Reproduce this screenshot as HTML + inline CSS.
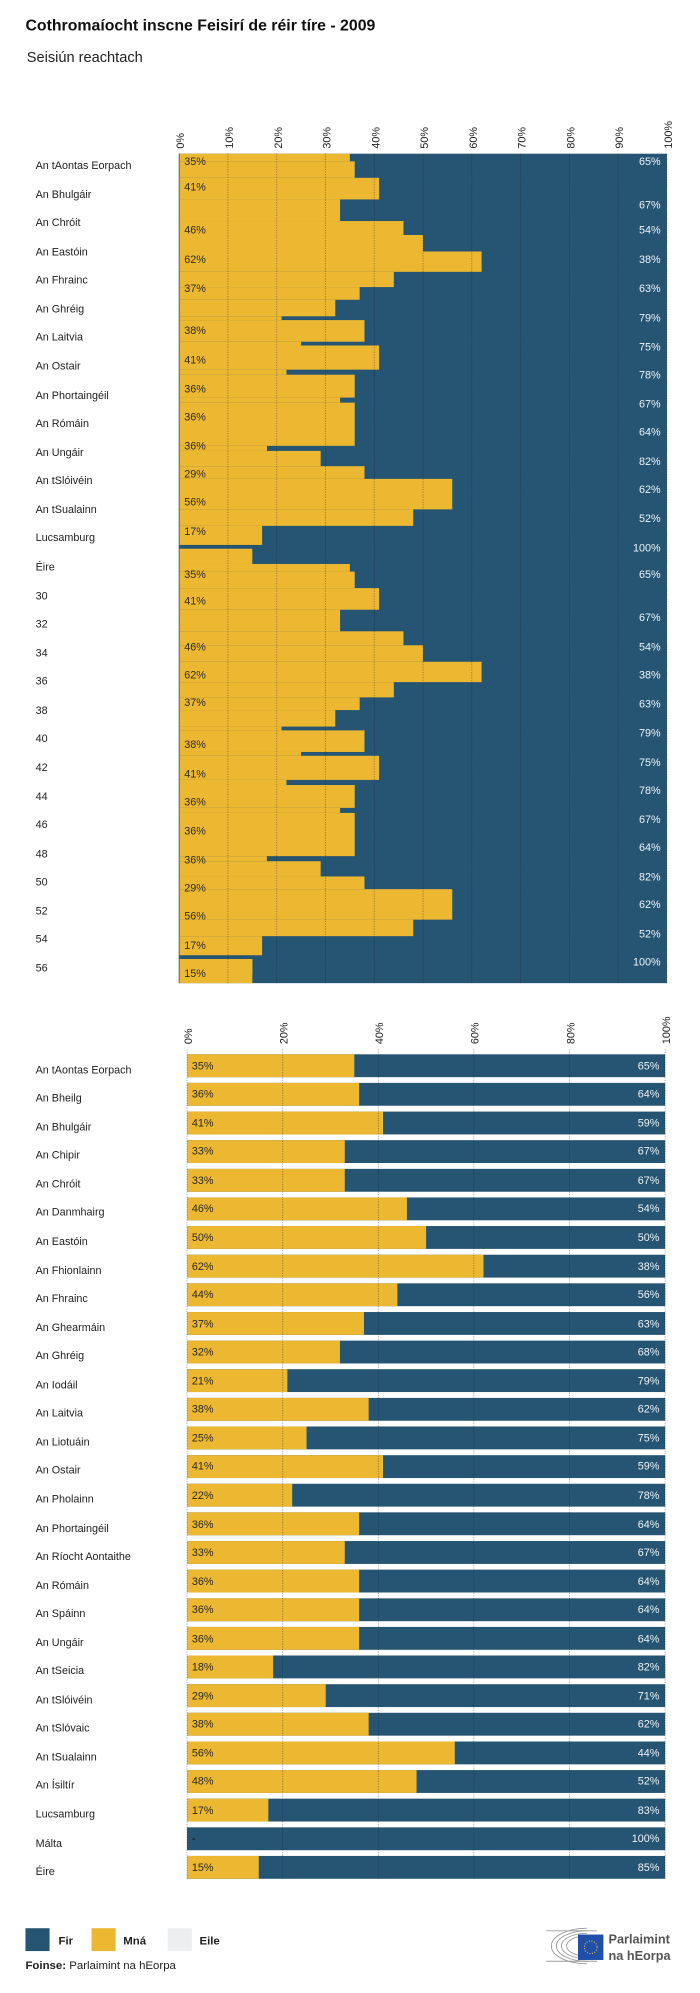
<!DOCTYPE html>
<html><head><meta charset="utf-8"><style>
html,body{margin:0;padding:0;background:#fff;}
svg{display:block;}
text{font-family:"Liberation Sans",sans-serif;}
</style></head><body>
<svg width="700" height="1993" viewBox="0 0 551 1569" xmlns="http://www.w3.org/2000/svg">
<rect x="0" y="0" width="551" height="1569" fill="#fff"/>
<g transform="translate(0,-1)">
<text x="20" y="25" font-size="12.5" font-weight="bold" fill="#111">Cothromaíocht inscne Feisirí de réir tíre - 2009</text>
<text x="21" y="50" font-size="11.5" fill="#222">Seisiún reachtach</text>

<!-- TOP CHART -->
<g font-size="8.5" fill="#222">
<text transform="translate(145,118) rotate(-90)">0%</text>
<text transform="translate(183.4,118) rotate(-90)">10%</text>
<text transform="translate(221.8,118) rotate(-90)">20%</text>
<text transform="translate(260.2,118) rotate(-90)">30%</text>
<text transform="translate(298.6,118) rotate(-90)">40%</text>
<text transform="translate(337,118) rotate(-90)">50%</text>
<text transform="translate(375.4,118) rotate(-90)">60%</text>
<text transform="translate(413.8,118) rotate(-90)">70%</text>
<text transform="translate(452.2,118) rotate(-90)">80%</text>
<text transform="translate(490.6,118) rotate(-90)">90%</text>
<text transform="translate(529,118) rotate(-90)">100%</text>
</g>
<rect x="141" y="122" width="384" height="653" fill="#265573"/>
<g id="half" fill="#ecb731">
<rect x="141" y="122" width="134.4" height="6"/>
<rect x="141" y="128" width="138.2" height="13"/>
<rect x="141" y="141" width="157.4" height="17"/>
<rect x="141" y="158" width="126.7" height="17"/>
<rect x="141" y="175" width="176.6" height="11"/>
<rect x="141" y="186" width="192" height="13"/>
<rect x="141" y="199" width="238.1" height="16"/>
<rect x="141" y="215" width="169" height="12"/>
<rect x="141" y="227" width="142.1" height="10"/>
<rect x="141" y="237" width="122.9" height="13"/>
<rect x="141" y="250" width="80.6" height="3"/>
<rect x="141" y="253" width="145.9" height="17"/>
<rect x="141" y="270" width="96" height="3"/>
<rect x="141" y="273" width="157.4" height="19"/>
<rect x="141" y="292" width="84.5" height="4"/>
<rect x="141" y="296" width="138.2" height="18"/>
<rect x="141" y="314" width="126.7" height="4"/>
<rect x="141" y="318" width="138.2" height="34"/>
<rect x="141" y="352" width="69.1" height="4"/>
<rect x="141" y="356" width="111.4" height="12"/>
<rect x="141" y="368" width="145.9" height="10"/>
<rect x="141" y="378" width="215" height="24"/>
<rect x="141" y="402" width="184.3" height="13"/>
<rect x="141" y="415" width="65.3" height="15"/>
<rect x="141" y="433" width="57.6" height="12"/>
</g>
<use href="#half" transform="translate(0,323)"/>
<rect x="141" y="756" width="57.6" height="19" fill="#ecb731"/>
<g stroke="#1a1a1a" stroke-opacity="0.45" stroke-width="0.6" stroke-dasharray="1 1">
<line x1="179.4" y1="122" x2="179.4" y2="775"/><line x1="217.8" y1="122" x2="217.8" y2="775"/>
<line x1="256.2" y1="122" x2="256.2" y2="775"/><line x1="294.6" y1="122" x2="294.6" y2="775"/>
<line x1="333" y1="122" x2="333" y2="775"/><line x1="371.4" y1="122" x2="371.4" y2="775"/>
<line x1="409.8" y1="122" x2="409.8" y2="775"/><line x1="448.2" y1="122" x2="448.2" y2="775"/>
<line x1="486.6" y1="122" x2="486.6" y2="775"/><line x1="525" y1="122" x2="525" y2="775"/>
</g>
<line x1="141" y1="122" x2="141" y2="775" stroke="#555" stroke-width="0.7"/>
<g font-size="8.5" fill="#222">
<text x="28" y="134">An tAontas Eorpach</text><text x="28" y="157">An Bhulgáir</text>
<text x="28" y="179">An Chróit</text><text x="28" y="202">An Eastóin</text>
<text x="28" y="224">An Fhrainc</text><text x="28" y="247">An Ghréig</text>
<text x="28" y="269">An Laitvia</text><text x="28" y="292">An Ostair</text>
<text x="28" y="315">An Phortaingéil</text><text x="28" y="337">An Rómáin</text>
<text x="28" y="360">An Ungáir</text><text x="28" y="382">An tSlóivéin</text>
<text x="28" y="405">An tSualainn</text><text x="28" y="427">Lucsamburg</text>
<text x="28" y="450">Éire</text><text x="28" y="473">30</text>
<text x="28" y="495">32</text><text x="28" y="518">34</text>
<text x="28" y="540">36</text><text x="28" y="563">38</text>
<text x="28" y="585">40</text><text x="28" y="608">42</text>
<text x="28" y="631">44</text><text x="28" y="653">46</text>
<text x="28" y="676">48</text><text x="28" y="698">50</text>
<text x="28" y="721">52</text><text x="28" y="743">54</text>
<text x="28" y="766">56</text>
</g>
<g font-size="8.5" fill="#2a2a2a">
<text x="145" y="131">35%</text><text x="145" y="151">41%</text><text x="145" y="185">46%</text>
<text x="145" y="208">62%</text><text x="145" y="231">37%</text><text x="145" y="264">38%</text>
<text x="145" y="287">41%</text><text x="145" y="310">36%</text><text x="145" y="332">36%</text>
<text x="145" y="355">36%</text><text x="145" y="377">29%</text><text x="145" y="399">56%</text>
<text x="145" y="422">17%</text>
<text x="145" y="456">35%</text><text x="145" y="477">41%</text><text x="145" y="513">46%</text>
<text x="145" y="535">62%</text><text x="145" y="557">37%</text><text x="145" y="590">38%</text>
<text x="145" y="613">41%</text><text x="145" y="635">36%</text><text x="145" y="658">36%</text>
<text x="145" y="681">36%</text><text x="145" y="703">29%</text><text x="145" y="725">56%</text>
<text x="145" y="748">17%</text><text x="145" y="770">15%</text>
</g>
<g font-size="8.5" fill="#eef3f7" text-anchor="end">
<text x="520" y="131">65%</text><text x="520" y="165">67%</text><text x="520" y="185">54%</text>
<text x="520" y="208">38%</text><text x="520" y="231">63%</text><text x="520" y="254">79%</text>
<text x="520" y="277">75%</text><text x="520" y="299">78%</text><text x="520" y="322">67%</text>
<text x="520" y="344">64%</text><text x="520" y="367">82%</text><text x="520" y="389">62%</text>
<text x="520" y="412">52%</text><text x="520" y="435">100%</text>
<text x="520" y="456">65%</text><text x="520" y="490">67%</text><text x="520" y="513">54%</text>
<text x="520" y="535">38%</text><text x="520" y="558">63%</text><text x="520" y="581">79%</text>
<text x="520" y="604">75%</text><text x="520" y="626">78%</text><text x="520" y="649">67%</text>
<text x="520" y="671">64%</text><text x="520" y="694">82%</text><text x="520" y="716">62%</text>
<text x="520" y="739">52%</text><text x="520" y="761">100%</text>
</g>

<!-- BOTTOM CHART -->
<g font-size="8.5" fill="#222">
<text transform="translate(151,823) rotate(-90)">0%</text>
<text transform="translate(226.3,823) rotate(-90)">20%</text>
<text transform="translate(301.6,823) rotate(-90)">40%</text>
<text transform="translate(376.8,823) rotate(-90)">60%</text>
<text transform="translate(452.1,823) rotate(-90)">80%</text>
<text transform="translate(527.4,823) rotate(-90)">100%</text>
</g>
<g id="bars"></g>
<g font-size="8.5">
<!-- rows generated inline -->
<g fill="#265573">
<rect x="147.2" y="831.0" width="376.4" height="18"/><rect x="147.2" y="853.5" width="376.4" height="18"/>
<rect x="147.2" y="876.1" width="376.4" height="18"/><rect x="147.2" y="898.6" width="376.4" height="18"/>
<rect x="147.2" y="921.2" width="376.4" height="18"/><rect x="147.2" y="943.7" width="376.4" height="18"/>
<rect x="147.2" y="966.2" width="376.4" height="18"/><rect x="147.2" y="988.8" width="376.4" height="18"/>
<rect x="147.2" y="1011.3" width="376.4" height="18"/><rect x="147.2" y="1033.9" width="376.4" height="18"/>
<rect x="147.2" y="1056.4" width="376.4" height="18"/><rect x="147.2" y="1078.9" width="376.4" height="18"/>
<rect x="147.2" y="1101.5" width="376.4" height="18"/><rect x="147.2" y="1124.0" width="376.4" height="18"/>
<rect x="147.2" y="1146.6" width="376.4" height="18"/><rect x="147.2" y="1169.1" width="376.4" height="18"/>
<rect x="147.2" y="1191.6" width="376.4" height="18"/><rect x="147.2" y="1214.2" width="376.4" height="18"/>
<rect x="147.2" y="1236.7" width="376.4" height="18"/><rect x="147.2" y="1259.3" width="376.4" height="18"/>
<rect x="147.2" y="1281.8" width="376.4" height="18"/><rect x="147.2" y="1304.3" width="376.4" height="18"/>
<rect x="147.2" y="1326.9" width="376.4" height="18"/><rect x="147.2" y="1349.4" width="376.4" height="18"/>
<rect x="147.2" y="1372.0" width="376.4" height="18"/><rect x="147.2" y="1394.5" width="376.4" height="18"/>
<rect x="147.2" y="1417.0" width="376.4" height="18"/><rect x="147.2" y="1439.6" width="376.4" height="18"/>
<rect x="147.2" y="1462.1" width="376.4" height="18"/>
</g>
<g fill="#ecb731">
<rect x="147.2" y="831.0" width="131.7" height="18"/><rect x="147.2" y="853.5" width="135.5" height="18"/>
<rect x="147.2" y="876.1" width="154.3" height="18"/><rect x="147.2" y="898.6" width="124.2" height="18"/>
<rect x="147.2" y="921.2" width="124.2" height="18"/><rect x="147.2" y="943.7" width="173.1" height="18"/>
<rect x="147.2" y="966.2" width="188.2" height="18"/><rect x="147.2" y="988.8" width="233.4" height="18"/>
<rect x="147.2" y="1011.3" width="165.6" height="18"/><rect x="147.2" y="1033.9" width="139.3" height="18"/>
<rect x="147.2" y="1056.4" width="120.4" height="18"/><rect x="147.2" y="1078.9" width="79.0" height="18"/>
<rect x="147.2" y="1101.5" width="143.0" height="18"/><rect x="147.2" y="1124.0" width="94.1" height="18"/>
<rect x="147.2" y="1146.6" width="154.3" height="18"/><rect x="147.2" y="1169.1" width="82.8" height="18"/>
<rect x="147.2" y="1191.6" width="135.5" height="18"/><rect x="147.2" y="1214.2" width="124.2" height="18"/>
<rect x="147.2" y="1236.7" width="135.5" height="18"/><rect x="147.2" y="1259.3" width="135.5" height="18"/>
<rect x="147.2" y="1281.8" width="135.5" height="18"/><rect x="147.2" y="1304.3" width="67.8" height="18"/>
<rect x="147.2" y="1326.9" width="109.2" height="18"/><rect x="147.2" y="1349.4" width="143.0" height="18"/>
<rect x="147.2" y="1372.0" width="210.8" height="18"/><rect x="147.2" y="1394.5" width="180.7" height="18"/>
<rect x="147.2" y="1417.0" width="64.0" height="18"/>
<rect x="147.2" y="1462.1" width="56.5" height="18"/>
</g>
</g>
<g stroke="#1a1a1a" stroke-opacity="0.45" stroke-width="0.6" stroke-dasharray="1 1">
<line x1="147.2" y1="827" x2="147.2" y2="1481"/><line x1="222.5" y1="827" x2="222.5" y2="1481"/>
<line x1="297.8" y1="827" x2="297.8" y2="1481"/><line x1="373" y1="827" x2="373" y2="1481"/>
<line x1="448.3" y1="827" x2="448.3" y2="1481"/><line x1="523.6" y1="827" x2="523.6" y2="1481"/>
</g>
<g font-size="8.5" fill="#222">
<text x="28" y="846">An tAontas Eorpach</text><text x="28" y="868">An Bheilg</text>
<text x="28" y="891">An Bhulgáir</text><text x="28" y="913">An Chipir</text>
<text x="28" y="936">An Chróit</text><text x="28" y="958">An Danmhairg</text>
<text x="28" y="981">An Eastóin</text><text x="28" y="1004">An Fhionlainn</text>
<text x="28" y="1026">An Fhrainc</text><text x="28" y="1049">An Ghearmáin</text>
<text x="28" y="1071">An Ghréig</text><text x="28" y="1094">An Iodáil</text>
<text x="28" y="1116">An Laitvia</text><text x="28" y="1139">An Liotuáin</text>
<text x="28" y="1161">An Ostair</text><text x="28" y="1184">An Pholainn</text>
<text x="28" y="1207">An Phortaingéil</text><text x="28" y="1229">An Ríocht Aontaithe</text>
<text x="28" y="1252">An Rómáin</text><text x="28" y="1274">An Spáinn</text>
<text x="28" y="1297">An Ungáir</text><text x="28" y="1319">An tSeicia</text>
<text x="28" y="1342">An tSlóivéin</text><text x="28" y="1364">An tSlóvaic</text>
<text x="28" y="1387">An tSualainn</text><text x="28" y="1409">An Ísiltír</text>
<text x="28" y="1432">Lucsamburg</text><text x="28" y="1455">Málta</text>
<text x="28" y="1477">Éire</text>
</g>
<g font-size="8.5" fill="#2a2a2a">
<text x="151" y="843">35%</text><text x="151" y="865">36%</text><text x="151" y="888">41%</text>
<text x="151" y="910">33%</text><text x="151" y="933">33%</text><text x="151" y="955">46%</text>
<text x="151" y="978">50%</text><text x="151" y="1001">62%</text><text x="151" y="1023">44%</text>
<text x="151" y="1046">37%</text><text x="151" y="1068">32%</text><text x="151" y="1091">21%</text>
<text x="151" y="1113">38%</text><text x="151" y="1136">25%</text><text x="151" y="1158">41%</text>
<text x="151" y="1181">22%</text><text x="151" y="1204">36%</text><text x="151" y="1226">33%</text>
<text x="151" y="1249">36%</text><text x="151" y="1271">36%</text><text x="151" y="1294">36%</text>
<text x="151" y="1316">18%</text><text x="151" y="1339">29%</text><text x="151" y="1361">38%</text>
<text x="151" y="1384">56%</text><text x="151" y="1406">48%</text><text x="151" y="1429">17%</text>
<text x="151" y="1451" fill="#111">-</text><text x="151" y="1474">15%</text>
</g>
<g font-size="8.5" fill="#eef3f7" text-anchor="end">
<text x="519" y="843">65%</text><text x="519" y="865">64%</text><text x="519" y="888">59%</text>
<text x="519" y="910">67%</text><text x="519" y="933">67%</text><text x="519" y="955">54%</text>
<text x="519" y="978">50%</text><text x="519" y="1001">38%</text><text x="519" y="1023">56%</text>
<text x="519" y="1046">63%</text><text x="519" y="1068">68%</text><text x="519" y="1091">79%</text>
<text x="519" y="1113">62%</text><text x="519" y="1136">75%</text><text x="519" y="1158">59%</text>
<text x="519" y="1181">78%</text><text x="519" y="1204">64%</text><text x="519" y="1226">67%</text>
<text x="519" y="1249">64%</text><text x="519" y="1271">64%</text><text x="519" y="1294">64%</text>
<text x="519" y="1316">82%</text><text x="519" y="1339">71%</text><text x="519" y="1361">62%</text>
<text x="519" y="1384">44%</text><text x="519" y="1406">52%</text><text x="519" y="1429">83%</text>
<text x="519" y="1451">100%</text><text x="519" y="1474">85%</text>
</g>

<!-- LEGEND -->
<rect x="20" y="1519" width="19" height="18" fill="#265573"/>
<text x="46" y="1532" font-size="9" font-weight="bold" fill="#222">Fir</text>
<rect x="72" y="1519" width="19" height="18" fill="#ecb731"/>
<text x="97" y="1532" font-size="9" font-weight="bold" fill="#222">Mná</text>
<rect x="132" y="1519" width="19" height="18" fill="#eceef0"/>
<text x="157" y="1532" font-size="9" font-weight="bold" fill="#222">Eile</text>
<text x="20" y="1551" font-size="9" fill="#222"><tspan font-weight="bold">Foinse:</tspan> Parlaimint na hEorpa</text>

<!-- LOGO -->
<g fill="none" stroke="#999" stroke-width="0.7">
<path d="M462 1519 A28 14 0 0 0 462 1547"/>
<path d="M462 1521 A24 12 0 0 0 462 1545"/>
<path d="M462 1523 A20 10 0 0 0 462 1543"/>
<path d="M462 1525 A16 8 0 0 0 462 1541"/>
<line x1="430" y1="1521" x2="470" y2="1521"/>
<line x1="430" y1="1545" x2="470" y2="1545"/>
</g>
<rect x="455" y="1524" width="20" height="20" fill="#1f4fa8"/>
<circle cx="465" cy="1534" r="5" fill="none" stroke="#f1cc1c" stroke-width="0.8" stroke-dasharray="0.8 1.2"/>
<text x="479" y="1531" font-size="10" font-weight="bold" fill="#555">Parlaimint</text>
<text x="479" y="1544" font-size="10" font-weight="bold" fill="#555">na hEorpa</text>
</g>
</svg>
</body></html>
